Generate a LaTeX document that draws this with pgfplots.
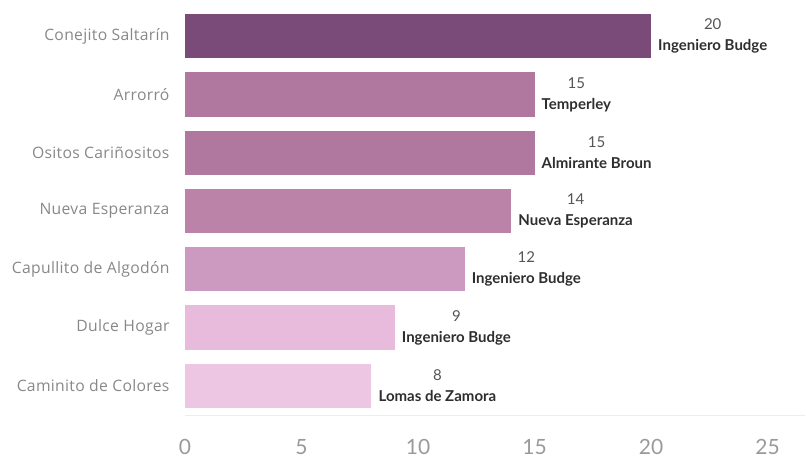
\documentclass[border=0pt]{standalone}
\usepackage{pgfplots}
\pgfplotsset{compat=1.18}
\usepackage{fontspec}
\setmainfont{Lato}
\newfontfamily\labfont[LetterSpace=2]{Open Sans}
\definecolor{cA}{HTML}{7A4A78}
\definecolor{cB}{HTML}{B0789E}
\definecolor{cC}{HTML}{BA83A7}
\definecolor{cD}{HTML}{CC9AC0}
\definecolor{cE}{HTML}{E8BADC}
\definecolor{cF}{HTML}{EDC6E4}
\definecolor{lbl}{HTML}{888888}
\definecolor{val}{HTML}{555555}
\definecolor{nam}{HTML}{2E2E2E}
\begin{document}
\begin{tikzpicture}
\begin{axis}[
    at={(0pt,0pt)}, anchor=south west,
    scale only axis, width=619.8pt, height=408pt,
    xbar, bar width=0.76, bar shift=0pt,
    xmin=0, xmax=26.6, ymin=-0.5, ymax=6.5, y dir=reverse,
    ytick={0,...,6},
    yticklabels={Conejito Saltarín, Arrorró, Ositos Cariñositos, Nueva Esperanza,
                 Capullito de Algodón, Dulce Hogar, Caminito de Colores},
    xtick={0,5,...,25},
    axis line style={draw=none}, major tick length=0pt,
    /pgf/number format/assume math mode=true,
    yticklabel style={font=\labfont\fontsize{15.7}{19}\selectfont, text=lbl, anchor=east, xshift=-12pt},
    xticklabel style={font=\fontsize{21}{24}\selectfont, text=lbl!85, anchor=center, yshift=-32pt},
    every node near coord/.append style={anchor=west, align=center, inner sep=0pt,
        xshift=7pt, font=\fontsize{15}{21}\selectfont, text=nam},
    clip=false,
]
\addplot[fill=cA, draw=none, nodes near coords={\textcolor{val}{20}\\\textbf{Ingeniero Budge}}] coordinates {(20,0)};
\addplot[fill=cB, draw=none, nodes near coords={\textcolor{val}{15}\\\textbf{Temperley}}] coordinates {(15,1)};
\addplot[fill=cB, draw=none, nodes near coords={\textcolor{val}{15}\\\textbf{Almirante Broun}}] coordinates {(15,2)};
\addplot[fill=cC, draw=none, nodes near coords={\textcolor{val}{14}\\\textbf{Nueva Esperanza}}] coordinates {(14,3)};
\addplot[fill=cD, draw=none, nodes near coords={\textcolor{val}{12}\\\textbf{Ingeniero Budge}}] coordinates {(12,4)};
\addplot[fill=cE, draw=none, nodes near coords={\textcolor{val}{9}\\\textbf{Ingeniero Budge}}] coordinates {(9,5)};
\addplot[fill=cF, draw=none, nodes near coords={\textcolor{val}{8}\\\textbf{Lomas de Zamora}}] coordinates {(8,6)};
\draw[black!7] (axis cs:0,6.5) -- (axis cs:26.6,6.5);
\end{axis}
\pgfresetboundingbox
\path (-185pt,-43pt) rectangle (621pt,415pt);
\end{tikzpicture}
\end{document}
